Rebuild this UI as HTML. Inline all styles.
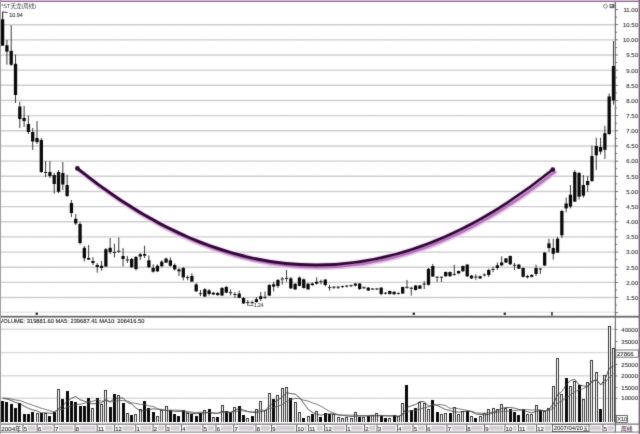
<!DOCTYPE html>
<html><head><meta charset="utf-8"><title>*ST天龙(周线)</title>
<style>
html,body{margin:0;padding:0;background:#fff;}
body{width:640px;height:434px;overflow:hidden;}
svg{display:block;}
text{font-family:"Liberation Sans","Noto Sans CJK SC",sans-serif;}
</style></head><body>
<svg width="640" height="434" viewBox="0 0 640 434">
<defs><filter id="soft" x="0" y="0" width="100%" height="100%" color-interpolation-filters="sRGB"><feConvolveMatrix order="3" kernelMatrix="0.0113 0.0838 0.0113 0.0838 0.6193 0.0838 0.0113 0.0838 0.0113" edgeMode="duplicate" preserveAlpha="true"/></filter></defs>
<g filter="url(#soft)">
<rect width="640" height="434" fill="#fff"/>
<line x1="1" y1="24.68" x2="615" y2="24.68" stroke="#d3d3d3" stroke-width="1.4" opacity="1.0"/>
<line x1="1" y1="24.68" x2="615" y2="24.68" stroke="#b0b0b0" stroke-width="1" stroke-dasharray="1 1.2" opacity="0.4"/>
<line x1="1" y1="39.84" x2="615" y2="39.84" stroke="#d3d3d3" stroke-width="1.4" opacity="1.0"/>
<line x1="1" y1="39.84" x2="615" y2="39.84" stroke="#b0b0b0" stroke-width="1" stroke-dasharray="1 1.2" opacity="0.4"/>
<line x1="1" y1="55" x2="615" y2="55" stroke="#d3d3d3" stroke-width="1.4" opacity="1.0"/>
<line x1="1" y1="55" x2="615" y2="55" stroke="#b0b0b0" stroke-width="1" stroke-dasharray="1 1.2" opacity="0.4"/>
<line x1="1" y1="70.16" x2="615" y2="70.16" stroke="#d3d3d3" stroke-width="1.4" opacity="1.0"/>
<line x1="1" y1="70.16" x2="615" y2="70.16" stroke="#b0b0b0" stroke-width="1" stroke-dasharray="1 1.2" opacity="0.4"/>
<line x1="1" y1="85.32" x2="615" y2="85.32" stroke="#d3d3d3" stroke-width="1.4" opacity="1.0"/>
<line x1="1" y1="85.32" x2="615" y2="85.32" stroke="#b0b0b0" stroke-width="1" stroke-dasharray="1 1.2" opacity="0.4"/>
<line x1="1" y1="100.48" x2="615" y2="100.48" stroke="#d3d3d3" stroke-width="1.4" opacity="1.0"/>
<line x1="1" y1="100.48" x2="615" y2="100.48" stroke="#b0b0b0" stroke-width="1" stroke-dasharray="1 1.2" opacity="0.4"/>
<line x1="1" y1="115.64" x2="615" y2="115.64" stroke="#d3d3d3" stroke-width="1.4" opacity="1.0"/>
<line x1="1" y1="115.64" x2="615" y2="115.64" stroke="#b0b0b0" stroke-width="1" stroke-dasharray="1 1.2" opacity="0.4"/>
<line x1="1" y1="130.8" x2="615" y2="130.8" stroke="#d3d3d3" stroke-width="1.4" opacity="1.0"/>
<line x1="1" y1="130.8" x2="615" y2="130.8" stroke="#b0b0b0" stroke-width="1" stroke-dasharray="1 1.2" opacity="0.4"/>
<line x1="1" y1="145.96" x2="615" y2="145.96" stroke="#d3d3d3" stroke-width="1.4" opacity="1.0"/>
<line x1="1" y1="145.96" x2="615" y2="145.96" stroke="#b0b0b0" stroke-width="1" stroke-dasharray="1 1.2" opacity="0.4"/>
<line x1="1" y1="161.12" x2="615" y2="161.12" stroke="#d3d3d3" stroke-width="1.4" opacity="1.0"/>
<line x1="1" y1="161.12" x2="615" y2="161.12" stroke="#b0b0b0" stroke-width="1" stroke-dasharray="1 1.2" opacity="0.4"/>
<line x1="1" y1="176.28" x2="615" y2="176.28" stroke="#d3d3d3" stroke-width="1.4" opacity="1.0"/>
<line x1="1" y1="176.28" x2="615" y2="176.28" stroke="#b0b0b0" stroke-width="1" stroke-dasharray="1 1.2" opacity="0.4"/>
<line x1="1" y1="191.44" x2="615" y2="191.44" stroke="#d3d3d3" stroke-width="1.4" opacity="1.0"/>
<line x1="1" y1="191.44" x2="615" y2="191.44" stroke="#b0b0b0" stroke-width="1" stroke-dasharray="1 1.2" opacity="0.4"/>
<line x1="1" y1="206.6" x2="615" y2="206.6" stroke="#d3d3d3" stroke-width="1.4" opacity="1.0"/>
<line x1="1" y1="206.6" x2="615" y2="206.6" stroke="#b0b0b0" stroke-width="1" stroke-dasharray="1 1.2" opacity="0.4"/>
<line x1="1" y1="221.76" x2="615" y2="221.76" stroke="#d3d3d3" stroke-width="1.4" opacity="1.0"/>
<line x1="1" y1="221.76" x2="615" y2="221.76" stroke="#b0b0b0" stroke-width="1" stroke-dasharray="1 1.2" opacity="0.4"/>
<line x1="1" y1="236.92" x2="615" y2="236.92" stroke="#d3d3d3" stroke-width="1.4" opacity="1.0"/>
<line x1="1" y1="236.92" x2="615" y2="236.92" stroke="#b0b0b0" stroke-width="1" stroke-dasharray="1 1.2" opacity="0.4"/>
<line x1="1" y1="252.08" x2="615" y2="252.08" stroke="#d3d3d3" stroke-width="1.4" opacity="1.0"/>
<line x1="1" y1="252.08" x2="615" y2="252.08" stroke="#b0b0b0" stroke-width="1" stroke-dasharray="1 1.2" opacity="0.4"/>
<line x1="1" y1="267.24" x2="615" y2="267.24" stroke="#d3d3d3" stroke-width="1.4" opacity="1.0"/>
<line x1="1" y1="267.24" x2="615" y2="267.24" stroke="#b0b0b0" stroke-width="1" stroke-dasharray="1 1.2" opacity="0.4"/>
<line x1="1" y1="282.4" x2="615" y2="282.4" stroke="#d3d3d3" stroke-width="1.4" opacity="1.0"/>
<line x1="1" y1="282.4" x2="615" y2="282.4" stroke="#b0b0b0" stroke-width="1" stroke-dasharray="1 1.2" opacity="0.4"/>
<line x1="1" y1="297.56" x2="615" y2="297.56" stroke="#d3d3d3" stroke-width="1.4" opacity="1.0"/>
<line x1="1" y1="297.56" x2="615" y2="297.56" stroke="#b0b0b0" stroke-width="1" stroke-dasharray="1 1.2" opacity="0.4"/>
<line x1="1" y1="312.2" x2="615" y2="312.2" stroke="#d8d8d8" stroke-width="1.4" opacity="0.5"/>
<line x1="1" y1="312.2" x2="615" y2="312.2" stroke="#b0b0b0" stroke-width="1" stroke-dasharray="1 1.2" opacity="0.2"/>
<line x1="1" y1="329.3" x2="615" y2="329.3" stroke="#dadada" stroke-width="1.4" opacity="0.85"/>
<line x1="1" y1="329.3" x2="615" y2="329.3" stroke="#b0b0b0" stroke-width="1" stroke-dasharray="1 1.2" opacity="0.34"/>
<line x1="1" y1="352.6" x2="615" y2="352.6" stroke="#dadada" stroke-width="1.4" opacity="0.85"/>
<line x1="1" y1="352.6" x2="615" y2="352.6" stroke="#b0b0b0" stroke-width="1" stroke-dasharray="1 1.2" opacity="0.34"/>
<line x1="1" y1="375.8" x2="615" y2="375.8" stroke="#dadada" stroke-width="1.4" opacity="0.85"/>
<line x1="1" y1="375.8" x2="615" y2="375.8" stroke="#b0b0b0" stroke-width="1" stroke-dasharray="1 1.2" opacity="0.34"/>
<line x1="1" y1="398.3" x2="615" y2="398.3" stroke="#dadada" stroke-width="1.4" opacity="0.85"/>
<line x1="1" y1="398.3" x2="615" y2="398.3" stroke="#b0b0b0" stroke-width="1" stroke-dasharray="1 1.2" opacity="0.34"/>
<line x1="2.6" y1="11.8" x2="2.6" y2="46" stroke="#3a3a3a" stroke-width="1"/>
<rect x="0.95" y="19.3" width="3.3" height="26.3" fill="#0a0a0a"/>
<line x1="6.9" y1="39.8" x2="6.9" y2="64.7" stroke="#3a3a3a" stroke-width="1"/>
<rect x="5.25" y="45.3" width="3.3" height="6.3" fill="#0a0a0a"/>
<line x1="11.2" y1="25.3" x2="11.2" y2="66" stroke="#3a3a3a" stroke-width="1"/>
<rect x="9.55" y="50.9" width="3.3" height="13.8" fill="#0a0a0a"/>
<line x1="15.51" y1="54.6" x2="15.51" y2="103" stroke="#3a3a3a" stroke-width="1"/>
<rect x="13.86" y="63.8" width="3.3" height="31.2" fill="#0a0a0a"/>
<line x1="19.81" y1="101.8" x2="19.81" y2="128" stroke="#3a3a3a" stroke-width="1"/>
<rect x="18.16" y="106.5" width="3.3" height="12.5" fill="#0a0a0a"/>
<line x1="24.11" y1="106" x2="24.11" y2="127" stroke="#3a3a3a" stroke-width="1"/>
<rect x="22.46" y="118" width="3.3" height="3" fill="#0a0a0a"/>
<line x1="28.41" y1="115.7" x2="28.41" y2="134" stroke="#3a3a3a" stroke-width="1"/>
<rect x="26.76" y="124" width="3.3" height="8" fill="#0a0a0a"/>
<line x1="32.71" y1="128" x2="32.71" y2="150" stroke="#3a3a3a" stroke-width="1"/>
<rect x="31.06" y="132" width="3.3" height="9.5" fill="#0a0a0a"/>
<line x1="37.02" y1="121" x2="37.02" y2="144" stroke="#3a3a3a" stroke-width="1"/>
<rect x="35.37" y="138" width="3.3" height="4" fill="#0a0a0a"/>
<line x1="41.32" y1="138" x2="41.32" y2="173" stroke="#3a3a3a" stroke-width="1"/>
<rect x="39.67" y="140" width="3.3" height="32" fill="#0a0a0a"/>
<line x1="45.62" y1="161" x2="45.62" y2="177" stroke="#3a3a3a" stroke-width="1"/>
<rect x="43.97" y="172" width="3.3" height="1" fill="#222"/>
<line x1="49.92" y1="161" x2="49.92" y2="178" stroke="#3a3a3a" stroke-width="1"/>
<rect x="48.27" y="172" width="3.3" height="4" fill="#0a0a0a"/>
<line x1="54.22" y1="173" x2="54.22" y2="193.7" stroke="#3a3a3a" stroke-width="1"/>
<rect x="52.57" y="175" width="3.3" height="9" fill="#0a0a0a"/>
<line x1="58.53" y1="170" x2="58.53" y2="193" stroke="#3a3a3a" stroke-width="1"/>
<rect x="56.88" y="172" width="3.3" height="19.8" fill="#0a0a0a"/>
<line x1="62.83" y1="162" x2="62.83" y2="190" stroke="#3a3a3a" stroke-width="1"/>
<rect x="61.18" y="173" width="3.3" height="11.5" fill="#0a0a0a"/>
<line x1="67.13" y1="174.6" x2="67.13" y2="197" stroke="#3a3a3a" stroke-width="1"/>
<rect x="65.48" y="185" width="3.3" height="11" fill="#0a0a0a"/>
<line x1="71.43" y1="200" x2="71.43" y2="217" stroke="#3a3a3a" stroke-width="1"/>
<rect x="69.78" y="203" width="3.3" height="10" fill="#0a0a0a"/>
<line x1="75.73" y1="214" x2="75.73" y2="225" stroke="#3a3a3a" stroke-width="1"/>
<rect x="74.08" y="218.8" width="3.3" height="4.6" fill="#0a0a0a"/>
<line x1="80.04" y1="222" x2="80.04" y2="244.6" stroke="#3a3a3a" stroke-width="1"/>
<rect x="78.39" y="224" width="3.3" height="19" fill="#0a0a0a"/>
<line x1="84.34" y1="246" x2="84.34" y2="261.6" stroke="#3a3a3a" stroke-width="1"/>
<rect x="82.69" y="247.8" width="3.3" height="10.4" fill="#0a0a0a"/>
<line x1="88.64" y1="245" x2="88.64" y2="260" stroke="#3a3a3a" stroke-width="1"/>
<rect x="86.99" y="258" width="3.3" height="1.6" fill="#0a0a0a"/>
<line x1="92.94" y1="257" x2="92.94" y2="265" stroke="#3a3a3a" stroke-width="1"/>
<rect x="91.29" y="261" width="3.3" height="2" fill="#0a0a0a"/>
<line x1="97.24" y1="263" x2="97.24" y2="272.7" stroke="#3a3a3a" stroke-width="1"/>
<rect x="95.59" y="265" width="3.3" height="2" fill="#0a0a0a"/>
<line x1="101.55" y1="261" x2="101.55" y2="270.6" stroke="#3a3a3a" stroke-width="1"/>
<rect x="99.9" y="265.8" width="3.3" height="2.2" fill="#0a0a0a"/>
<line x1="105.85" y1="248" x2="105.85" y2="267" stroke="#3a3a3a" stroke-width="1"/>
<rect x="104.2" y="249.2" width="3.3" height="17.3" fill="#0a0a0a"/>
<line x1="110.15" y1="238" x2="110.15" y2="254" stroke="#3a3a3a" stroke-width="1"/>
<rect x="108.5" y="247.8" width="3.3" height="4.2" fill="#0a0a0a"/>
<line x1="114.45" y1="243.7" x2="114.45" y2="257.5" stroke="#3a3a3a" stroke-width="1"/>
<rect x="112.8" y="251.9" width="3.3" height="1" fill="#222"/>
<line x1="118.75" y1="237.4" x2="118.75" y2="252.7" stroke="#3a3a3a" stroke-width="1"/>
<rect x="117.1" y="250.8" width="3.3" height="1" fill="#222"/>
<line x1="123.06" y1="248" x2="123.06" y2="266.5" stroke="#3a3a3a" stroke-width="1"/>
<rect x="121.41" y="256" width="3.3" height="3" fill="#0a0a0a"/>
<line x1="127.36" y1="256" x2="127.36" y2="263" stroke="#3a3a3a" stroke-width="1"/>
<rect x="125.71" y="259.5" width="3.3" height="1" fill="#222"/>
<line x1="131.66" y1="258" x2="131.66" y2="268" stroke="#3a3a3a" stroke-width="1"/>
<rect x="130.01" y="259" width="3.3" height="8.2" fill="#0a0a0a"/>
<line x1="135.96" y1="256" x2="135.96" y2="270.6" stroke="#3a3a3a" stroke-width="1"/>
<rect x="134.31" y="257" width="3.3" height="12" fill="#0a0a0a"/>
<line x1="140.26" y1="253" x2="140.26" y2="260" stroke="#3a3a3a" stroke-width="1"/>
<rect x="138.61" y="254.3" width="3.3" height="2.2" fill="#0a0a0a"/>
<line x1="144.57" y1="245.7" x2="144.57" y2="258" stroke="#3a3a3a" stroke-width="1"/>
<rect x="142.92" y="254" width="3.3" height="1.7" fill="#0a0a0a"/>
<line x1="148.87" y1="255.4" x2="148.87" y2="268" stroke="#3a3a3a" stroke-width="1"/>
<rect x="147.22" y="260.3" width="3.3" height="6.9" fill="#0a0a0a"/>
<line x1="153.17" y1="264.4" x2="153.17" y2="272.7" stroke="#3a3a3a" stroke-width="1"/>
<rect x="151.52" y="267.9" width="3.3" height="3.8" fill="#0a0a0a"/>
<line x1="157.47" y1="264.4" x2="157.47" y2="272" stroke="#3a3a3a" stroke-width="1"/>
<rect x="155.82" y="265.8" width="3.3" height="5.5" fill="#0a0a0a"/>
<line x1="161.77" y1="260.3" x2="161.77" y2="267.2" stroke="#3a3a3a" stroke-width="1"/>
<rect x="160.12" y="261.7" width="3.3" height="4.5" fill="#0a0a0a"/>
<line x1="166.08" y1="257.5" x2="166.08" y2="263" stroke="#3a3a3a" stroke-width="1"/>
<rect x="164.43" y="258.6" width="3.3" height="4" fill="#0a0a0a"/>
<line x1="170.38" y1="257.5" x2="170.38" y2="266.5" stroke="#3a3a3a" stroke-width="1"/>
<rect x="168.73" y="260.3" width="3.3" height="5.5" fill="#0a0a0a"/>
<line x1="174.68" y1="263.4" x2="174.68" y2="270.6" stroke="#3a3a3a" stroke-width="1"/>
<rect x="173.03" y="265" width="3.3" height="4.3" fill="#0a0a0a"/>
<line x1="178.98" y1="268" x2="178.98" y2="276" stroke="#3a3a3a" stroke-width="1"/>
<rect x="177.33" y="269.5" width="3.3" height="1.8" fill="#0a0a0a"/>
<line x1="183.28" y1="267" x2="183.28" y2="280.3" stroke="#3a3a3a" stroke-width="1"/>
<rect x="181.63" y="268" width="3.3" height="9.3" fill="#0a0a0a"/>
<line x1="187.59" y1="275.5" x2="187.59" y2="280.3" stroke="#3a3a3a" stroke-width="1"/>
<rect x="185.94" y="277" width="3.3" height="1" fill="#222"/>
<line x1="191.89" y1="273.4" x2="191.89" y2="282" stroke="#3a3a3a" stroke-width="1"/>
<rect x="190.24" y="276" width="3.3" height="5.6" fill="#0a0a0a"/>
<line x1="196.19" y1="283" x2="196.19" y2="292" stroke="#3a3a3a" stroke-width="1"/>
<rect x="194.54" y="284.4" width="3.3" height="6.9" fill="#0a0a0a"/>
<line x1="200.49" y1="290" x2="200.49" y2="296" stroke="#3a3a3a" stroke-width="1"/>
<rect x="198.84" y="293.2" width="3.3" height="1" fill="#222"/>
<line x1="204.79" y1="288" x2="204.79" y2="297" stroke="#3a3a3a" stroke-width="1"/>
<rect x="203.14" y="289.3" width="3.3" height="7.2" fill="#0a0a0a"/>
<line x1="209.1" y1="289" x2="209.1" y2="295.5" stroke="#3a3a3a" stroke-width="1"/>
<rect x="207.45" y="290.4" width="3.3" height="3.6" fill="#0a0a0a"/>
<line x1="213.4" y1="292" x2="213.4" y2="295" stroke="#3a3a3a" stroke-width="1"/>
<rect x="211.75" y="292.7" width="3.3" height="1.7" fill="#0a0a0a"/>
<line x1="217.7" y1="292" x2="217.7" y2="296" stroke="#3a3a3a" stroke-width="1"/>
<rect x="216.05" y="293" width="3.3" height="2" fill="#0a0a0a"/>
<line x1="222" y1="287" x2="222" y2="296" stroke="#3a3a3a" stroke-width="1"/>
<rect x="220.35" y="288" width="3.3" height="7.5" fill="#0a0a0a"/>
<line x1="226.3" y1="285.8" x2="226.3" y2="293" stroke="#3a3a3a" stroke-width="1"/>
<rect x="224.65" y="287" width="3.3" height="5.7" fill="#0a0a0a"/>
<line x1="230.61" y1="289.3" x2="230.61" y2="295.5" stroke="#3a3a3a" stroke-width="1"/>
<rect x="228.96" y="292.2" width="3.3" height="1" fill="#222"/>
<line x1="234.91" y1="292" x2="234.91" y2="298" stroke="#3a3a3a" stroke-width="1"/>
<rect x="233.26" y="294" width="3.3" height="1" fill="#222"/>
<line x1="239.21" y1="290.6" x2="239.21" y2="298.2" stroke="#3a3a3a" stroke-width="1"/>
<rect x="237.56" y="293.6" width="3.3" height="4.3" fill="#0a0a0a"/>
<line x1="243.51" y1="297" x2="243.51" y2="304" stroke="#3a3a3a" stroke-width="1"/>
<rect x="241.86" y="298" width="3.3" height="5.4" fill="#0a0a0a"/>
<line x1="247.81" y1="299.8" x2="247.81" y2="305.8" stroke="#3a3a3a" stroke-width="1"/>
<rect x="246.16" y="302.1" width="3.3" height="1" fill="#222"/>
<line x1="252.12" y1="300.5" x2="252.12" y2="304.6" stroke="#3a3a3a" stroke-width="1"/>
<rect x="250.47" y="302.1" width="3.3" height="1" fill="#222"/>
<line x1="256.42" y1="297" x2="256.42" y2="302.5" stroke="#3a3a3a" stroke-width="1"/>
<rect x="254.77" y="299.2" width="3.3" height="2.9" fill="#0a0a0a"/>
<line x1="260.72" y1="292" x2="260.72" y2="301" stroke="#3a3a3a" stroke-width="1"/>
<rect x="259.07" y="296.3" width="3.3" height="2.7" fill="#0a0a0a"/>
<line x1="265.02" y1="291.5" x2="265.02" y2="299" stroke="#3a3a3a" stroke-width="1"/>
<rect x="263.37" y="296.8" width="3.3" height="1" fill="#222"/>
<line x1="269.32" y1="284" x2="269.32" y2="296" stroke="#3a3a3a" stroke-width="1"/>
<rect x="267.67" y="285" width="3.3" height="10.6" fill="#0a0a0a"/>
<line x1="273.63" y1="281.8" x2="273.63" y2="291.5" stroke="#3a3a3a" stroke-width="1"/>
<rect x="271.98" y="284.3" width="3.3" height="2.3" fill="#0a0a0a"/>
<line x1="277.93" y1="279" x2="277.93" y2="288" stroke="#3a3a3a" stroke-width="1"/>
<rect x="276.28" y="280" width="3.3" height="6" fill="#0a0a0a"/>
<line x1="282.23" y1="277" x2="282.23" y2="284.6" stroke="#3a3a3a" stroke-width="1"/>
<rect x="280.58" y="278.5" width="3.3" height="1" fill="#222"/>
<line x1="286.53" y1="270" x2="286.53" y2="281.8" stroke="#3a3a3a" stroke-width="1"/>
<rect x="284.88" y="277.9" width="3.3" height="1" fill="#222"/>
<line x1="290.83" y1="277" x2="290.83" y2="289" stroke="#3a3a3a" stroke-width="1"/>
<rect x="289.18" y="278.4" width="3.3" height="10" fill="#0a0a0a"/>
<line x1="295.14" y1="283" x2="295.14" y2="290" stroke="#3a3a3a" stroke-width="1"/>
<rect x="293.49" y="283.9" width="3.3" height="5.5" fill="#0a0a0a"/>
<line x1="299.44" y1="276.5" x2="299.44" y2="286.5" stroke="#3a3a3a" stroke-width="1"/>
<rect x="297.79" y="277.6" width="3.3" height="8.2" fill="#0a0a0a"/>
<line x1="303.74" y1="278.5" x2="303.74" y2="288.5" stroke="#3a3a3a" stroke-width="1"/>
<rect x="302.09" y="279.3" width="3.3" height="8.7" fill="#0a0a0a"/>
<line x1="308.04" y1="283" x2="308.04" y2="290" stroke="#3a3a3a" stroke-width="1"/>
<rect x="306.39" y="283.7" width="3.3" height="5.6" fill="#0a0a0a"/>
<line x1="312.34" y1="282.5" x2="312.34" y2="286" stroke="#3a3a3a" stroke-width="1"/>
<rect x="310.69" y="283.5" width="3.3" height="1.5" fill="#0a0a0a"/>
<line x1="316.65" y1="277.5" x2="316.65" y2="284.5" stroke="#3a3a3a" stroke-width="1"/>
<rect x="315" y="281.7" width="3.3" height="2" fill="#0a0a0a"/>
<line x1="320.95" y1="279.6" x2="320.95" y2="284.4" stroke="#3a3a3a" stroke-width="1"/>
<rect x="319.3" y="281.2" width="3.3" height="1" fill="#222"/>
<line x1="325.25" y1="279" x2="325.25" y2="286.5" stroke="#3a3a3a" stroke-width="1"/>
<rect x="323.6" y="279.6" width="3.3" height="5.4" fill="#0a0a0a"/>
<line x1="329.55" y1="285" x2="329.55" y2="290.6" stroke="#3a3a3a" stroke-width="1"/>
<rect x="327.9" y="287.1" width="3.3" height="1" fill="#222"/>
<line x1="333.85" y1="286" x2="333.85" y2="289" stroke="#3a3a3a" stroke-width="1"/>
<rect x="332.2" y="286.7" width="3.3" height="1" fill="#222"/>
<line x1="338.16" y1="286" x2="338.16" y2="289" stroke="#3a3a3a" stroke-width="1"/>
<rect x="336.51" y="286.7" width="3.3" height="1" fill="#222"/>
<line x1="342.46" y1="285.5" x2="342.46" y2="288" stroke="#3a3a3a" stroke-width="1"/>
<rect x="340.81" y="286" width="3.3" height="1" fill="#222"/>
<line x1="346.76" y1="285" x2="346.76" y2="287.5" stroke="#3a3a3a" stroke-width="1"/>
<rect x="345.11" y="285.5" width="3.3" height="1" fill="#222"/>
<line x1="351.06" y1="284.5" x2="351.06" y2="287" stroke="#3a3a3a" stroke-width="1"/>
<rect x="349.41" y="285.3" width="3.3" height="1" fill="#222"/>
<line x1="355.36" y1="283" x2="355.36" y2="286.5" stroke="#3a3a3a" stroke-width="1"/>
<rect x="353.71" y="283.6" width="3.3" height="2" fill="#0a0a0a"/>
<line x1="359.67" y1="283" x2="359.67" y2="290" stroke="#3a3a3a" stroke-width="1"/>
<rect x="358.02" y="283.6" width="3.3" height="5.4" fill="#0a0a0a"/>
<line x1="363.97" y1="286.5" x2="363.97" y2="289" stroke="#3a3a3a" stroke-width="1"/>
<rect x="362.32" y="287.2" width="3.3" height="1" fill="#222"/>
<line x1="368.27" y1="287" x2="368.27" y2="291" stroke="#3a3a3a" stroke-width="1"/>
<rect x="366.62" y="287.7" width="3.3" height="2.8" fill="#0a0a0a"/>
<line x1="372.57" y1="288" x2="372.57" y2="290" stroke="#3a3a3a" stroke-width="1"/>
<rect x="370.92" y="288.5" width="3.3" height="1" fill="#222"/>
<line x1="376.87" y1="288" x2="376.87" y2="290" stroke="#3a3a3a" stroke-width="1"/>
<rect x="375.22" y="288.5" width="3.3" height="1" fill="#222"/>
<line x1="381.18" y1="287" x2="381.18" y2="295.3" stroke="#3a3a3a" stroke-width="1"/>
<rect x="379.53" y="287.7" width="3.3" height="6.3" fill="#0a0a0a"/>
<line x1="385.48" y1="292" x2="385.48" y2="294.5" stroke="#3a3a3a" stroke-width="1"/>
<rect x="383.83" y="292.8" width="3.3" height="1" fill="#222"/>
<line x1="389.78" y1="290.5" x2="389.78" y2="294.5" stroke="#3a3a3a" stroke-width="1"/>
<rect x="388.13" y="291" width="3.3" height="3" fill="#0a0a0a"/>
<line x1="394.08" y1="291" x2="394.08" y2="295" stroke="#3a3a3a" stroke-width="1"/>
<rect x="392.43" y="291.9" width="3.3" height="2.3" fill="#0a0a0a"/>
<line x1="398.38" y1="292.5" x2="398.38" y2="294.5" stroke="#3a3a3a" stroke-width="1"/>
<rect x="396.73" y="292.9" width="3.3" height="1" fill="#222"/>
<line x1="402.69" y1="286.5" x2="402.69" y2="294" stroke="#3a3a3a" stroke-width="1"/>
<rect x="401.04" y="287" width="3.3" height="6.5" fill="#0a0a0a"/>
<line x1="406.99" y1="280" x2="406.99" y2="288.7" stroke="#3a3a3a" stroke-width="1"/>
<rect x="405.34" y="286.9" width="3.3" height="1" fill="#222"/>
<line x1="411.29" y1="286.6" x2="411.29" y2="295.6" stroke="#3a3a3a" stroke-width="1"/>
<rect x="409.64" y="287.8" width="3.3" height="1" fill="#222"/>
<line x1="415.59" y1="285" x2="415.59" y2="290.5" stroke="#3a3a3a" stroke-width="1"/>
<rect x="413.94" y="285.5" width="3.3" height="4.5" fill="#0a0a0a"/>
<line x1="419.89" y1="285" x2="419.89" y2="289" stroke="#3a3a3a" stroke-width="1"/>
<rect x="418.24" y="285.5" width="3.3" height="3.2" fill="#0a0a0a"/>
<line x1="424.2" y1="281.3" x2="424.2" y2="289" stroke="#3a3a3a" stroke-width="1"/>
<rect x="422.55" y="283.6" width="3.3" height="1" fill="#222"/>
<line x1="428.5" y1="268" x2="428.5" y2="285.5" stroke="#3a3a3a" stroke-width="1"/>
<rect x="426.85" y="268.9" width="3.3" height="15.9" fill="#0a0a0a"/>
<line x1="432.8" y1="264" x2="432.8" y2="277" stroke="#3a3a3a" stroke-width="1"/>
<rect x="431.15" y="266" width="3.3" height="10.5" fill="#0a0a0a"/>
<line x1="437.1" y1="276.5" x2="437.1" y2="282" stroke="#3a3a3a" stroke-width="1"/>
<rect x="435.45" y="276.7" width="3.3" height="1" fill="#222"/>
<line x1="441.4" y1="276.5" x2="441.4" y2="282" stroke="#3a3a3a" stroke-width="1"/>
<rect x="439.75" y="276.7" width="3.3" height="1" fill="#222"/>
<line x1="445.71" y1="271.5" x2="445.71" y2="276.8" stroke="#3a3a3a" stroke-width="1"/>
<rect x="444.06" y="272" width="3.3" height="4.2" fill="#0a0a0a"/>
<line x1="450.01" y1="271.5" x2="450.01" y2="276.8" stroke="#3a3a3a" stroke-width="1"/>
<rect x="448.36" y="272" width="3.3" height="4.2" fill="#0a0a0a"/>
<line x1="454.31" y1="264.7" x2="454.31" y2="275.8" stroke="#3a3a3a" stroke-width="1"/>
<rect x="452.66" y="273.9" width="3.3" height="1" fill="#222"/>
<line x1="458.61" y1="270.5" x2="458.61" y2="274" stroke="#3a3a3a" stroke-width="1"/>
<rect x="456.96" y="271" width="3.3" height="2.4" fill="#0a0a0a"/>
<line x1="462.91" y1="265.5" x2="462.91" y2="272" stroke="#3a3a3a" stroke-width="1"/>
<rect x="461.26" y="266" width="3.3" height="5.2" fill="#0a0a0a"/>
<line x1="467.22" y1="264" x2="467.22" y2="277" stroke="#3a3a3a" stroke-width="1"/>
<rect x="465.57" y="264.6" width="3.3" height="11.7" fill="#0a0a0a"/>
<line x1="471.52" y1="275" x2="471.52" y2="279" stroke="#3a3a3a" stroke-width="1"/>
<rect x="469.87" y="275.6" width="3.3" height="2.8" fill="#0a0a0a"/>
<line x1="475.82" y1="274.3" x2="475.82" y2="279.8" stroke="#3a3a3a" stroke-width="1"/>
<rect x="474.17" y="276.5" width="3.3" height="1" fill="#222"/>
<line x1="480.12" y1="275.5" x2="480.12" y2="279" stroke="#3a3a3a" stroke-width="1"/>
<rect x="478.47" y="276.3" width="3.3" height="2.1" fill="#0a0a0a"/>
<line x1="484.42" y1="273.5" x2="484.42" y2="276.5" stroke="#3a3a3a" stroke-width="1"/>
<rect x="482.77" y="274.5" width="3.3" height="1" fill="#222"/>
<line x1="488.73" y1="268.7" x2="488.73" y2="277" stroke="#3a3a3a" stroke-width="1"/>
<rect x="487.08" y="270" width="3.3" height="5" fill="#0a0a0a"/>
<line x1="493.03" y1="266.7" x2="493.03" y2="272.2" stroke="#3a3a3a" stroke-width="1"/>
<rect x="491.38" y="268.9" width="3.3" height="1" fill="#222"/>
<line x1="497.33" y1="262.5" x2="497.33" y2="270" stroke="#3a3a3a" stroke-width="1"/>
<rect x="495.68" y="265.3" width="3.3" height="2.7" fill="#0a0a0a"/>
<line x1="501.63" y1="256.3" x2="501.63" y2="266" stroke="#3a3a3a" stroke-width="1"/>
<rect x="499.98" y="262.5" width="3.3" height="2.8" fill="#0a0a0a"/>
<line x1="505.93" y1="258" x2="505.93" y2="263" stroke="#3a3a3a" stroke-width="1"/>
<rect x="504.28" y="258.4" width="3.3" height="4.1" fill="#0a0a0a"/>
<line x1="510.24" y1="255.5" x2="510.24" y2="265" stroke="#3a3a3a" stroke-width="1"/>
<rect x="508.59" y="256" width="3.3" height="8.3" fill="#0a0a0a"/>
<line x1="514.54" y1="263" x2="514.54" y2="270" stroke="#3a3a3a" stroke-width="1"/>
<rect x="512.89" y="264.8" width="3.3" height="1" fill="#222"/>
<line x1="518.84" y1="264" x2="518.84" y2="269" stroke="#3a3a3a" stroke-width="1"/>
<rect x="517.19" y="264.6" width="3.3" height="4.1" fill="#0a0a0a"/>
<line x1="523.14" y1="267.5" x2="523.14" y2="277.5" stroke="#3a3a3a" stroke-width="1"/>
<rect x="521.49" y="268" width="3.3" height="8.8" fill="#0a0a0a"/>
<line x1="527.44" y1="275" x2="527.44" y2="278.5" stroke="#3a3a3a" stroke-width="1"/>
<rect x="525.79" y="276" width="3.3" height="1.3" fill="#0a0a0a"/>
<line x1="531.75" y1="274" x2="531.75" y2="277.5" stroke="#3a3a3a" stroke-width="1"/>
<rect x="530.1" y="275" width="3.3" height="1.8" fill="#0a0a0a"/>
<line x1="536.05" y1="264.7" x2="536.05" y2="276" stroke="#3a3a3a" stroke-width="1"/>
<rect x="534.4" y="268" width="3.3" height="6" fill="#0a0a0a"/>
<line x1="540.35" y1="268" x2="540.35" y2="274" stroke="#3a3a3a" stroke-width="1"/>
<rect x="538.7" y="268.5" width="3.3" height="1" fill="#222"/>
<line x1="544.65" y1="252" x2="544.65" y2="266" stroke="#3a3a3a" stroke-width="1"/>
<rect x="543" y="252.6" width="3.3" height="12.9" fill="#0a0a0a"/>
<line x1="548.95" y1="238.7" x2="548.95" y2="251.7" stroke="#3a3a3a" stroke-width="1"/>
<rect x="547.3" y="243.4" width="3.3" height="4.6" fill="#0a0a0a"/>
<line x1="553.26" y1="238.7" x2="553.26" y2="259.5" stroke="#3a3a3a" stroke-width="1"/>
<rect x="551.61" y="248" width="3.3" height="5.8" fill="#0a0a0a"/>
<line x1="557.56" y1="237" x2="557.56" y2="253" stroke="#3a3a3a" stroke-width="1"/>
<rect x="555.91" y="238.7" width="3.3" height="13.9" fill="#0a0a0a"/>
<line x1="561.86" y1="210" x2="561.86" y2="238" stroke="#3a3a3a" stroke-width="1"/>
<rect x="560.21" y="211" width="3.3" height="24.3" fill="#0a0a0a"/>
<line x1="566.16" y1="197.6" x2="566.16" y2="212.4" stroke="#3a3a3a" stroke-width="1"/>
<rect x="564.51" y="203.5" width="3.3" height="4.9" fill="#0a0a0a"/>
<line x1="570.46" y1="185" x2="570.46" y2="208.4" stroke="#3a3a3a" stroke-width="1"/>
<rect x="568.81" y="194.7" width="3.3" height="11.8" fill="#0a0a0a"/>
<line x1="574.77" y1="170" x2="574.77" y2="202" stroke="#3a3a3a" stroke-width="1"/>
<rect x="573.12" y="172" width="3.3" height="29.6" fill="#0a0a0a"/>
<line x1="579.07" y1="172" x2="579.07" y2="199.6" stroke="#3a3a3a" stroke-width="1"/>
<rect x="577.42" y="173" width="3.3" height="23.7" fill="#0a0a0a"/>
<line x1="583.37" y1="175" x2="583.37" y2="197.6" stroke="#3a3a3a" stroke-width="1"/>
<rect x="581.72" y="185" width="3.3" height="10.7" fill="#0a0a0a"/>
<line x1="587.67" y1="176" x2="587.67" y2="191.8" stroke="#3a3a3a" stroke-width="1"/>
<rect x="586.02" y="181" width="3.3" height="4" fill="#0a0a0a"/>
<line x1="591.97" y1="145.7" x2="591.97" y2="182" stroke="#3a3a3a" stroke-width="1"/>
<rect x="590.32" y="156" width="3.3" height="25" fill="#0a0a0a"/>
<line x1="596.28" y1="137.8" x2="596.28" y2="170" stroke="#3a3a3a" stroke-width="1"/>
<rect x="594.63" y="146" width="3.3" height="9.3" fill="#0a0a0a"/>
<line x1="600.58" y1="137.8" x2="600.58" y2="154.5" stroke="#3a3a3a" stroke-width="1"/>
<rect x="598.93" y="147" width="3.3" height="4.6" fill="#0a0a0a"/>
<line x1="604.88" y1="125.8" x2="604.88" y2="159" stroke="#3a3a3a" stroke-width="1"/>
<rect x="603.23" y="133.2" width="3.3" height="16.6" fill="#0a0a0a"/>
<line x1="609.18" y1="93.5" x2="609.18" y2="135" stroke="#3a3a3a" stroke-width="1"/>
<rect x="607.53" y="96.4" width="3.3" height="37.6" fill="#0a0a0a"/>
<line x1="613.48" y1="41" x2="613.48" y2="104.6" stroke="#3a3a3a" stroke-width="1"/>
<rect x="611.83" y="66" width="3.3" height="34.4" fill="#0a0a0a"/>
<path d="M77.4,168.4 C235.9,296.5 394.3,297.6 552.8,169.5" fill="none" stroke="#f8e2f8" stroke-width="5" stroke-linecap="round"/>
<path d="M79.7,171.3 C238.2,299.4 396.6,300.5 555.1,172.4" fill="none" stroke="#ecc4ee" stroke-width="4.2" stroke-linecap="round"/>
<path d="M79.4,170.6 C237.9,298.7 396.3,299.8 554.8,171.7" fill="none" stroke="#b474ba" stroke-width="2.5" stroke-linecap="round"/>
<path d="M77.4,168.4 C235.9,296.5 394.3,297.6 552.8,169.5" fill="none" stroke="#2e0a36" stroke-width="2.7" stroke-linecap="round"/>
<circle cx="77.4" cy="168.4" r="2.3" fill="#2e0a36"/>
<circle cx="552.8" cy="169.5" r="2.3" fill="#2e0a36"/>
<rect x="1" y="401" width="3" height="21" fill="#0a0a0a"/>
<rect x="5" y="402" width="3" height="20" fill="#0a0a0a"/>
<rect x="10" y="404" width="3" height="18" fill="#0a0a0a"/>
<rect x="14" y="408" width="3" height="14" fill="#0a0a0a"/>
<rect x="18" y="403" width="3" height="19" fill="#0a0a0a"/>
<rect x="23" y="414" width="3" height="8" fill="#0a0a0a"/>
<rect x="27" y="414" width="3" height="8" fill="#0a0a0a"/>
<rect x="31" y="412" width="3" height="10" fill="#0a0a0a"/>
<rect x="36" y="413" width="3" height="9" fill="#3a3a3a"/>
<rect x="37" y="414" width="1" height="8" fill="#fff"/>
<rect x="40" y="413" width="3" height="9" fill="#0a0a0a"/>
<rect x="44" y="413" width="3" height="9" fill="#3a3a3a"/>
<rect x="45" y="414" width="1" height="8" fill="#fff"/>
<rect x="48" y="416" width="3" height="6" fill="#0a0a0a"/>
<rect x="53" y="412" width="3" height="10" fill="#0a0a0a"/>
<rect x="57" y="389" width="3" height="33" fill="#3a3a3a"/>
<rect x="58" y="390" width="1" height="32" fill="#fff"/>
<rect x="61" y="399" width="3" height="23" fill="#0a0a0a"/>
<rect x="66" y="391" width="3" height="31" fill="#0a0a0a"/>
<rect x="70" y="401" width="3" height="21" fill="#0a0a0a"/>
<rect x="74" y="402" width="3" height="20" fill="#0a0a0a"/>
<rect x="79" y="406" width="3" height="16" fill="#0a0a0a"/>
<rect x="83" y="406" width="3" height="16" fill="#0a0a0a"/>
<rect x="87" y="398" width="3" height="24" fill="#0a0a0a"/>
<rect x="91" y="408" width="3" height="14" fill="#3a3a3a"/>
<rect x="92" y="409" width="1" height="13" fill="#fff"/>
<rect x="96" y="398" width="3" height="24" fill="#0a0a0a"/>
<rect x="100" y="404" width="3" height="18" fill="#3a3a3a"/>
<rect x="101" y="405" width="1" height="17" fill="#fff"/>
<rect x="104" y="390" width="3" height="32" fill="#3a3a3a"/>
<rect x="105" y="391" width="1" height="31" fill="#fff"/>
<rect x="109" y="407" width="3" height="15" fill="#0a0a0a"/>
<rect x="113" y="394" width="3" height="28" fill="#0a0a0a"/>
<rect x="117" y="395" width="3" height="27" fill="#3a3a3a"/>
<rect x="118" y="396" width="1" height="26" fill="#fff"/>
<rect x="122" y="403" width="3" height="19" fill="#0a0a0a"/>
<rect x="126" y="413" width="3" height="9" fill="#3a3a3a"/>
<rect x="127" y="414" width="1" height="8" fill="#fff"/>
<rect x="130" y="415" width="3" height="7" fill="#0a0a0a"/>
<rect x="134" y="414" width="3" height="8" fill="#3a3a3a"/>
<rect x="135" y="415" width="1" height="7" fill="#fff"/>
<rect x="139" y="409" width="3" height="13" fill="#3a3a3a"/>
<rect x="140" y="410" width="1" height="12" fill="#fff"/>
<rect x="143" y="401" width="3" height="21" fill="#0a0a0a"/>
<rect x="147" y="408" width="3" height="14" fill="#0a0a0a"/>
<rect x="152" y="412" width="3" height="10" fill="#0a0a0a"/>
<rect x="156" y="416" width="3" height="6" fill="#3a3a3a"/>
<rect x="157" y="417" width="1" height="5" fill="#fff"/>
<rect x="160" y="410" width="3" height="12" fill="#3a3a3a"/>
<rect x="161" y="411" width="1" height="11" fill="#fff"/>
<rect x="165" y="406" width="3" height="16" fill="#3a3a3a"/>
<rect x="166" y="407" width="1" height="15" fill="#fff"/>
<rect x="169" y="410" width="3" height="12" fill="#0a0a0a"/>
<rect x="173" y="414" width="3" height="8" fill="#0a0a0a"/>
<rect x="177" y="416" width="3" height="6" fill="#0a0a0a"/>
<rect x="182" y="410" width="3" height="12" fill="#0a0a0a"/>
<rect x="186" y="413" width="3" height="9" fill="#3a3a3a"/>
<rect x="187" y="414" width="1" height="8" fill="#fff"/>
<rect x="190" y="414" width="3" height="8" fill="#0a0a0a"/>
<rect x="195" y="416" width="3" height="6" fill="#0a0a0a"/>
<rect x="199" y="413" width="3" height="9" fill="#0a0a0a"/>
<rect x="203" y="410" width="3" height="12" fill="#3a3a3a"/>
<rect x="204" y="411" width="1" height="11" fill="#fff"/>
<rect x="208" y="409" width="3" height="13" fill="#0a0a0a"/>
<rect x="212" y="417" width="3" height="5" fill="#3a3a3a"/>
<rect x="213" y="418" width="1" height="4" fill="#fff"/>
<rect x="216" y="417" width="3" height="5" fill="#0a0a0a"/>
<rect x="221" y="405" width="3" height="17" fill="#3a3a3a"/>
<rect x="222" y="406" width="1" height="16" fill="#fff"/>
<rect x="225" y="411" width="3" height="11" fill="#0a0a0a"/>
<rect x="229" y="412" width="3" height="10" fill="#0a0a0a"/>
<rect x="233" y="407" width="3" height="15" fill="#3a3a3a"/>
<rect x="234" y="408" width="1" height="14" fill="#fff"/>
<rect x="238" y="406" width="3" height="16" fill="#0a0a0a"/>
<rect x="242" y="415" width="3" height="7" fill="#0a0a0a"/>
<rect x="246" y="418" width="3" height="4" fill="#3a3a3a"/>
<rect x="247" y="419" width="1" height="3" fill="#fff"/>
<rect x="251" y="416" width="3" height="6" fill="#0a0a0a"/>
<rect x="255" y="409" width="3" height="13" fill="#3a3a3a"/>
<rect x="256" y="410" width="1" height="12" fill="#fff"/>
<rect x="259" y="401" width="3" height="21" fill="#3a3a3a"/>
<rect x="260" y="402" width="1" height="20" fill="#fff"/>
<rect x="264" y="410" width="3" height="12" fill="#3a3a3a"/>
<rect x="265" y="411" width="1" height="11" fill="#fff"/>
<rect x="268" y="393" width="3" height="29" fill="#3a3a3a"/>
<rect x="269" y="394" width="1" height="28" fill="#fff"/>
<rect x="272" y="399" width="3" height="23" fill="#0a0a0a"/>
<rect x="276" y="395" width="3" height="27" fill="#3a3a3a"/>
<rect x="277" y="396" width="1" height="26" fill="#fff"/>
<rect x="281" y="388" width="3" height="34" fill="#3a3a3a"/>
<rect x="282" y="389" width="1" height="33" fill="#fff"/>
<rect x="285" y="387" width="3" height="35" fill="#3a3a3a"/>
<rect x="286" y="388" width="1" height="34" fill="#fff"/>
<rect x="289" y="398" width="3" height="24" fill="#0a0a0a"/>
<rect x="294" y="402" width="3" height="20" fill="#3a3a3a"/>
<rect x="295" y="403" width="1" height="19" fill="#fff"/>
<rect x="298" y="412" width="3" height="10" fill="#3a3a3a"/>
<rect x="299" y="413" width="1" height="9" fill="#fff"/>
<rect x="302" y="418" width="3" height="4" fill="#0a0a0a"/>
<rect x="307" y="416" width="3" height="6" fill="#3a3a3a"/>
<rect x="308" y="417" width="1" height="5" fill="#fff"/>
<rect x="311" y="414" width="3" height="8" fill="#0a0a0a"/>
<rect x="315" y="411" width="3" height="11" fill="#3a3a3a"/>
<rect x="316" y="412" width="1" height="10" fill="#fff"/>
<rect x="319" y="417" width="3" height="5" fill="#0a0a0a"/>
<rect x="324" y="413" width="3" height="9" fill="#0a0a0a"/>
<rect x="328" y="414" width="3" height="8" fill="#0a0a0a"/>
<rect x="332" y="414" width="3" height="8" fill="#3a3a3a"/>
<rect x="333" y="415" width="1" height="7" fill="#fff"/>
<rect x="337" y="417" width="3" height="5" fill="#3a3a3a"/>
<rect x="338" y="418" width="1" height="4" fill="#fff"/>
<rect x="341" y="418" width="3" height="4" fill="#3a3a3a"/>
<rect x="342" y="419" width="1" height="3" fill="#fff"/>
<rect x="345" y="417" width="3" height="5" fill="#3a3a3a"/>
<rect x="346" y="418" width="1" height="4" fill="#fff"/>
<rect x="350" y="418" width="3" height="4" fill="#3a3a3a"/>
<rect x="351" y="419" width="1" height="3" fill="#fff"/>
<rect x="354" y="412" width="3" height="10" fill="#3a3a3a"/>
<rect x="355" y="413" width="1" height="9" fill="#fff"/>
<rect x="358" y="417" width="3" height="5" fill="#0a0a0a"/>
<rect x="362" y="417" width="3" height="5" fill="#3a3a3a"/>
<rect x="363" y="418" width="1" height="4" fill="#fff"/>
<rect x="367" y="416" width="3" height="6" fill="#0a0a0a"/>
<rect x="371" y="415" width="3" height="7" fill="#3a3a3a"/>
<rect x="372" y="416" width="1" height="6" fill="#fff"/>
<rect x="375" y="413" width="3" height="9" fill="#3a3a3a"/>
<rect x="376" y="414" width="1" height="8" fill="#fff"/>
<rect x="380" y="416" width="3" height="6" fill="#0a0a0a"/>
<rect x="384" y="418" width="3" height="4" fill="#0a0a0a"/>
<rect x="388" y="418" width="3" height="4" fill="#3a3a3a"/>
<rect x="389" y="419" width="1" height="3" fill="#fff"/>
<rect x="393" y="415" width="3" height="7" fill="#0a0a0a"/>
<rect x="397" y="416" width="3" height="6" fill="#3a3a3a"/>
<rect x="398" y="417" width="1" height="5" fill="#fff"/>
<rect x="401" y="403" width="3" height="19" fill="#3a3a3a"/>
<rect x="402" y="404" width="1" height="18" fill="#fff"/>
<rect x="405" y="385" width="3" height="37" fill="#0a0a0a"/>
<rect x="410" y="410" width="3" height="12" fill="#0a0a0a"/>
<rect x="414" y="408" width="3" height="14" fill="#0a0a0a"/>
<rect x="418" y="402" width="3" height="20" fill="#3a3a3a"/>
<rect x="419" y="403" width="1" height="19" fill="#fff"/>
<rect x="423" y="403" width="3" height="19" fill="#3a3a3a"/>
<rect x="424" y="404" width="1" height="18" fill="#fff"/>
<rect x="427" y="409" width="3" height="13" fill="#3a3a3a"/>
<rect x="428" y="410" width="1" height="12" fill="#fff"/>
<rect x="431" y="400" width="3" height="22" fill="#0a0a0a"/>
<rect x="436" y="412" width="3" height="10" fill="#0a0a0a"/>
<rect x="440" y="414" width="3" height="8" fill="#3a3a3a"/>
<rect x="441" y="415" width="1" height="7" fill="#fff"/>
<rect x="444" y="413" width="3" height="9" fill="#3a3a3a"/>
<rect x="445" y="414" width="1" height="8" fill="#fff"/>
<rect x="449" y="413" width="3" height="9" fill="#0a0a0a"/>
<rect x="453" y="407" width="3" height="15" fill="#3a3a3a"/>
<rect x="454" y="408" width="1" height="14" fill="#fff"/>
<rect x="457" y="414" width="3" height="8" fill="#3a3a3a"/>
<rect x="458" y="415" width="1" height="7" fill="#fff"/>
<rect x="461" y="411" width="3" height="11" fill="#3a3a3a"/>
<rect x="462" y="412" width="1" height="10" fill="#fff"/>
<rect x="466" y="411" width="3" height="11" fill="#0a0a0a"/>
<rect x="470" y="416" width="3" height="6" fill="#3a3a3a"/>
<rect x="471" y="417" width="1" height="5" fill="#fff"/>
<rect x="474" y="418" width="3" height="4" fill="#0a0a0a"/>
<rect x="479" y="416" width="3" height="6" fill="#3a3a3a"/>
<rect x="480" y="417" width="1" height="5" fill="#fff"/>
<rect x="483" y="413" width="3" height="9" fill="#3a3a3a"/>
<rect x="484" y="414" width="1" height="8" fill="#fff"/>
<rect x="487" y="409" width="3" height="13" fill="#3a3a3a"/>
<rect x="488" y="410" width="1" height="12" fill="#fff"/>
<rect x="492" y="408" width="3" height="14" fill="#3a3a3a"/>
<rect x="493" y="409" width="1" height="13" fill="#fff"/>
<rect x="496" y="409" width="3" height="13" fill="#3a3a3a"/>
<rect x="497" y="410" width="1" height="12" fill="#fff"/>
<rect x="500" y="404" width="3" height="18" fill="#3a3a3a"/>
<rect x="501" y="405" width="1" height="17" fill="#fff"/>
<rect x="504" y="408" width="3" height="14" fill="#3a3a3a"/>
<rect x="505" y="409" width="1" height="13" fill="#fff"/>
<rect x="509" y="409" width="3" height="13" fill="#0a0a0a"/>
<rect x="513" y="412" width="3" height="10" fill="#0a0a0a"/>
<rect x="517" y="415" width="3" height="7" fill="#0a0a0a"/>
<rect x="522" y="409" width="3" height="13" fill="#0a0a0a"/>
<rect x="526" y="414" width="3" height="8" fill="#3a3a3a"/>
<rect x="527" y="415" width="1" height="7" fill="#fff"/>
<rect x="530" y="414" width="3" height="8" fill="#3a3a3a"/>
<rect x="531" y="415" width="1" height="7" fill="#fff"/>
<rect x="535" y="405" width="3" height="17" fill="#3a3a3a"/>
<rect x="536" y="406" width="1" height="16" fill="#fff"/>
<rect x="539" y="410" width="3" height="12" fill="#0a0a0a"/>
<rect x="543" y="411" width="3" height="11" fill="#3a3a3a"/>
<rect x="544" y="412" width="1" height="10" fill="#fff"/>
<rect x="547" y="408" width="3" height="14" fill="#3a3a3a"/>
<rect x="548" y="409" width="1" height="13" fill="#fff"/>
<rect x="552" y="386" width="3" height="36" fill="#3a3a3a"/>
<rect x="553" y="387" width="1" height="35" fill="#fff"/>
<rect x="556" y="358" width="3" height="64" fill="#3a3a3a"/>
<rect x="557" y="359" width="1" height="63" fill="#fff"/>
<rect x="560" y="394" width="3" height="28" fill="#3a3a3a"/>
<rect x="561" y="395" width="1" height="27" fill="#fff"/>
<rect x="565" y="378" width="3" height="44" fill="#0a0a0a"/>
<rect x="569" y="386" width="3" height="36" fill="#3a3a3a"/>
<rect x="570" y="387" width="1" height="35" fill="#fff"/>
<rect x="573" y="381" width="3" height="41" fill="#3a3a3a"/>
<rect x="574" y="382" width="1" height="40" fill="#fff"/>
<rect x="578" y="385" width="3" height="37" fill="#0a0a0a"/>
<rect x="582" y="399" width="3" height="23" fill="#3a3a3a"/>
<rect x="583" y="400" width="1" height="22" fill="#fff"/>
<rect x="586" y="382" width="3" height="40" fill="#3a3a3a"/>
<rect x="587" y="383" width="1" height="39" fill="#fff"/>
<rect x="590" y="360" width="3" height="62" fill="#3a3a3a"/>
<rect x="591" y="361" width="1" height="61" fill="#fff"/>
<rect x="595" y="372" width="3" height="50" fill="#3a3a3a"/>
<rect x="596" y="373" width="1" height="49" fill="#fff"/>
<rect x="599" y="409" width="3" height="13" fill="#0a0a0a"/>
<rect x="603" y="375" width="3" height="47" fill="#3a3a3a"/>
<rect x="604" y="376" width="1" height="46" fill="#fff"/>
<rect x="608" y="326" width="3" height="96" fill="#3a3a3a"/>
<rect x="609" y="327" width="1" height="95" fill="#fff"/>
<rect x="612" y="348" width="3" height="74" fill="#3a3a3a"/>
<rect x="613" y="349" width="1" height="73" fill="#fff"/>
<path d="M2.6,398.28 L6.9,399.12 L11.2,400.42 L15.51,402.52 L19.81,403.62 L24.11,406.04 L28.41,408.4 L32.71,409.96 L37.02,410.92 L41.32,412.92 L45.62,412.82 L49.92,413.28 L54.22,413.28 L58.53,408.52 L62.83,405.68 L67.13,401.22 L71.43,398.34 L75.73,396.4 L80.04,399.76 L84.34,401.16 L88.64,402.56 L92.94,403.92 L97.24,403.16 L101.55,402.86 L105.85,399.7 L110.15,401.58 L114.45,398.74 L118.75,398.14 L123.06,397.92 L127.36,402.44 L131.66,404.02 L135.96,407.98 L140.26,410.78 L144.57,410.38 L148.87,409.46 L153.17,408.84 L157.47,409.28 L161.77,409.46 L166.08,410.48 L170.38,410.96 L174.68,411.34 L178.98,411.4 L183.28,411.4 L187.59,412.66 L191.89,413.34 L196.19,413.78 L200.49,413.16 L204.79,413.04 L209.1,412.38 L213.4,413.02 L217.7,413.2 L222,411.56 L226.3,411.84 L230.61,412.38 L234.91,410.3 L239.21,408.12 L243.51,410.12 L247.81,411.44 L252.12,412.2 L256.42,412.64 L260.72,411.72 L265.02,410.76 L269.32,405.9 L273.63,402.62 L277.93,399.9 L282.23,397.28 L286.53,392.68 L290.83,393.56 L295.14,394.1 L299.44,397.36 L303.74,403.34 L308.04,409.14 L312.34,412.36 L316.65,414.14 L320.95,415.24 L325.25,414.24 L329.55,413.8 L333.85,413.9 L338.16,415.08 L342.46,415.2 L346.76,415.94 L351.06,416.66 L355.36,416.1 L359.67,416.1 L363.97,415.96 L368.27,415.82 L372.57,415.28 L376.87,415.62 L381.18,415.44 L385.48,415.7 L389.78,415.98 L394.08,415.92 L398.38,416.58 L402.69,414.02 L406.99,407.42 L411.29,405.82 L415.59,404.5 L419.89,401.7 L424.2,401.66 L428.5,406.34 L432.8,404.5 L437.1,405.28 L441.4,407.54 L445.71,409.58 L450.01,410.5 L454.31,411.74 L458.61,412.16 L462.91,411.6 L467.22,411.22 L471.52,411.82 L475.82,414.02 L480.12,414.42 L484.42,414.86 L488.73,414.36 L493.03,412.76 L497.33,411 L501.63,408.52 L505.93,407.52 L510.24,407.5 L514.54,408.16 L518.84,409.38 L523.14,410.52 L527.44,411.76 L531.75,412.76 L536.05,411.46 L540.35,410.48 L544.65,410.88 L548.95,409.6 L553.26,404.1 L557.56,394.7 L561.86,391.48 L566.16,384.88 L570.46,380.38 L574.77,379.42 L579.07,384.88 L583.37,385.9 L587.67,386.68 L591.97,381.66 L596.28,379.88 L600.58,384.58 L604.88,379.78 L609.18,368.48 L613.48,365.9" fill="none" stroke="#333" stroke-width="0.8"/>
<path d="M2.6,397.89 L6.9,398.31 L11.2,398.96 L15.51,400.01 L19.81,400.56 L24.11,402.16 L28.41,403.76 L32.71,405.19 L37.02,406.72 L41.32,408.27 L45.62,409.43 L49.92,410.84 L54.22,411.62 L58.53,409.72 L62.83,409.3 L67.13,407.02 L71.43,405.81 L75.73,404.84 L80.04,404.14 L84.34,403.42 L88.64,401.89 L92.94,401.13 L97.24,399.78 L101.55,401.31 L105.85,400.43 L110.15,402.07 L114.45,401.33 L118.75,400.65 L123.06,400.39 L127.36,401.07 L131.66,402.8 L135.96,403.36 L140.26,404.46 L144.57,404.15 L148.87,405.95 L153.17,406.43 L157.47,408.63 L161.77,410.12 L166.08,410.43 L170.38,410.21 L174.68,410.09 L178.98,410.34 L183.28,410.43 L187.59,411.57 L191.89,412.15 L196.19,412.56 L200.49,412.28 L204.79,412.22 L209.1,412.52 L213.4,413.18 L217.7,413.49 L222,412.36 L226.3,412.44 L230.61,412.38 L234.91,411.66 L239.21,410.66 L243.51,410.84 L247.81,411.64 L252.12,412.29 L256.42,411.47 L260.72,409.92 L265.02,410.44 L269.32,408.67 L273.63,407.41 L277.93,406.27 L282.23,404.5 L286.53,401.72 L290.83,399.73 L295.14,398.36 L299.44,398.63 L303.74,400.31 L308.04,400.91 L312.34,402.96 L316.65,404.12 L320.95,406.3 L325.25,408.79 L329.55,411.47 L333.85,413.13 L338.16,414.61 L342.46,415.22 L346.76,415.09 L351.06,415.23 L355.36,415 L359.67,415.59 L363.97,415.58 L368.27,415.88 L372.57,415.97 L376.87,415.86 L381.18,415.77 L385.48,415.83 L389.78,415.9 L394.08,415.6 L398.38,416.1 L402.69,414.73 L406.99,411.56 L411.29,410.9 L415.59,410.21 L419.89,409.14 L424.2,407.84 L428.5,406.88 L432.8,405.16 L437.1,404.89 L441.4,404.62 L445.71,405.62 L450.01,408.42 L454.31,408.12 L458.61,408.72 L462.91,409.57 L467.22,410.4 L471.52,411.16 L475.82,412.88 L480.12,413.29 L484.42,413.23 L488.73,412.79 L493.03,412.29 L497.33,412.51 L501.63,411.47 L505.93,411.19 L510.24,410.93 L514.54,410.46 L518.84,410.19 L523.14,409.52 L527.44,409.64 L531.75,410.13 L536.05,409.81 L540.35,409.93 L544.65,410.7 L548.95,410.68 L553.26,408.43 L557.56,403.08 L561.86,400.98 L566.16,397.88 L570.46,394.99 L574.77,391.76 L579.07,389.79 L583.37,388.69 L587.67,385.78 L591.97,381.02 L596.28,379.65 L600.58,384.73 L604.88,382.84 L609.18,377.58 L613.48,373.78" fill="none" stroke="#555" stroke-width="0.8"/>
<rect x="614.8" y="1.5" width="1" height="431" fill="#555"/>
<rect x="615.5" y="9.12" width="2.6" height="0.8" fill="#555"/>
<rect x="615.5" y="16.7" width="1.6" height="0.8" fill="#555"/>
<rect x="615.5" y="24.28" width="2.6" height="0.8" fill="#555"/>
<rect x="615.5" y="31.86" width="1.6" height="0.8" fill="#555"/>
<rect x="615.5" y="39.44" width="2.6" height="0.8" fill="#555"/>
<rect x="615.5" y="47.02" width="1.6" height="0.8" fill="#555"/>
<rect x="615.5" y="54.6" width="2.6" height="0.8" fill="#555"/>
<rect x="615.5" y="62.18" width="1.6" height="0.8" fill="#555"/>
<rect x="615.5" y="69.76" width="2.6" height="0.8" fill="#555"/>
<rect x="615.5" y="77.34" width="1.6" height="0.8" fill="#555"/>
<rect x="615.5" y="84.92" width="2.6" height="0.8" fill="#555"/>
<rect x="615.5" y="92.5" width="1.6" height="0.8" fill="#555"/>
<rect x="615.5" y="100.08" width="2.6" height="0.8" fill="#555"/>
<rect x="615.5" y="107.66" width="1.6" height="0.8" fill="#555"/>
<rect x="615.5" y="115.24" width="2.6" height="0.8" fill="#555"/>
<rect x="615.5" y="122.82" width="1.6" height="0.8" fill="#555"/>
<rect x="615.5" y="130.4" width="2.6" height="0.8" fill="#555"/>
<rect x="615.5" y="137.98" width="1.6" height="0.8" fill="#555"/>
<rect x="615.5" y="145.56" width="2.6" height="0.8" fill="#555"/>
<rect x="615.5" y="153.14" width="1.6" height="0.8" fill="#555"/>
<rect x="615.5" y="160.72" width="2.6" height="0.8" fill="#555"/>
<rect x="615.5" y="168.3" width="1.6" height="0.8" fill="#555"/>
<rect x="615.5" y="175.88" width="2.6" height="0.8" fill="#555"/>
<rect x="615.5" y="183.46" width="1.6" height="0.8" fill="#555"/>
<rect x="615.5" y="191.04" width="2.6" height="0.8" fill="#555"/>
<rect x="615.5" y="198.62" width="1.6" height="0.8" fill="#555"/>
<rect x="615.5" y="206.2" width="2.6" height="0.8" fill="#555"/>
<rect x="615.5" y="213.78" width="1.6" height="0.8" fill="#555"/>
<rect x="615.5" y="221.36" width="2.6" height="0.8" fill="#555"/>
<rect x="615.5" y="228.94" width="1.6" height="0.8" fill="#555"/>
<rect x="615.5" y="236.52" width="2.6" height="0.8" fill="#555"/>
<rect x="615.5" y="244.1" width="1.6" height="0.8" fill="#555"/>
<rect x="615.5" y="251.68" width="2.6" height="0.8" fill="#555"/>
<rect x="615.5" y="259.26" width="1.6" height="0.8" fill="#555"/>
<rect x="615.5" y="266.84" width="2.6" height="0.8" fill="#555"/>
<rect x="615.5" y="274.42" width="1.6" height="0.8" fill="#555"/>
<rect x="615.5" y="282" width="2.6" height="0.8" fill="#555"/>
<rect x="615.5" y="289.58" width="1.6" height="0.8" fill="#555"/>
<rect x="615.5" y="297.16" width="2.6" height="0.8" fill="#555"/>
<rect x="615.5" y="304.74" width="1.6" height="0.8" fill="#555"/>
<rect x="615.5" y="312.32" width="2.6" height="0.8" fill="#555"/>
<text x="638" y="11.87" text-anchor="end" font-size="6" fill="#3a3a3a" font-family="'Liberation Sans', 'Noto Sans CJK SC', sans-serif" stroke="#3a3a3a" stroke-width="0.12">11.00</text>
<text x="638" y="27.03" text-anchor="end" font-size="6" fill="#3a3a3a" font-family="'Liberation Sans', 'Noto Sans CJK SC', sans-serif" stroke="#3a3a3a" stroke-width="0.12">10.50</text>
<text x="638" y="42.19" text-anchor="end" font-size="6" fill="#3a3a3a" font-family="'Liberation Sans', 'Noto Sans CJK SC', sans-serif" stroke="#3a3a3a" stroke-width="0.12">10.00</text>
<text x="638" y="57.35" text-anchor="end" font-size="6" fill="#3a3a3a" font-family="'Liberation Sans', 'Noto Sans CJK SC', sans-serif" stroke="#3a3a3a" stroke-width="0.12">9.50</text>
<text x="638" y="72.51" text-anchor="end" font-size="6" fill="#3a3a3a" font-family="'Liberation Sans', 'Noto Sans CJK SC', sans-serif" stroke="#3a3a3a" stroke-width="0.12">9.00</text>
<text x="638" y="87.67" text-anchor="end" font-size="6" fill="#3a3a3a" font-family="'Liberation Sans', 'Noto Sans CJK SC', sans-serif" stroke="#3a3a3a" stroke-width="0.12">8.50</text>
<text x="638" y="102.83" text-anchor="end" font-size="6" fill="#3a3a3a" font-family="'Liberation Sans', 'Noto Sans CJK SC', sans-serif" stroke="#3a3a3a" stroke-width="0.12">8.00</text>
<text x="638" y="117.99" text-anchor="end" font-size="6" fill="#3a3a3a" font-family="'Liberation Sans', 'Noto Sans CJK SC', sans-serif" stroke="#3a3a3a" stroke-width="0.12">7.50</text>
<text x="638" y="133.15" text-anchor="end" font-size="6" fill="#3a3a3a" font-family="'Liberation Sans', 'Noto Sans CJK SC', sans-serif" stroke="#3a3a3a" stroke-width="0.12">7.00</text>
<text x="638" y="148.31" text-anchor="end" font-size="6" fill="#3a3a3a" font-family="'Liberation Sans', 'Noto Sans CJK SC', sans-serif" stroke="#3a3a3a" stroke-width="0.12">6.50</text>
<text x="638" y="163.47" text-anchor="end" font-size="6" fill="#3a3a3a" font-family="'Liberation Sans', 'Noto Sans CJK SC', sans-serif" stroke="#3a3a3a" stroke-width="0.12">6.00</text>
<text x="638" y="178.63" text-anchor="end" font-size="6" fill="#3a3a3a" font-family="'Liberation Sans', 'Noto Sans CJK SC', sans-serif" stroke="#3a3a3a" stroke-width="0.12">5.50</text>
<text x="638" y="193.79" text-anchor="end" font-size="6" fill="#3a3a3a" font-family="'Liberation Sans', 'Noto Sans CJK SC', sans-serif" stroke="#3a3a3a" stroke-width="0.12">5.00</text>
<text x="638" y="208.95" text-anchor="end" font-size="6" fill="#3a3a3a" font-family="'Liberation Sans', 'Noto Sans CJK SC', sans-serif" stroke="#3a3a3a" stroke-width="0.12">4.50</text>
<text x="638" y="224.11" text-anchor="end" font-size="6" fill="#3a3a3a" font-family="'Liberation Sans', 'Noto Sans CJK SC', sans-serif" stroke="#3a3a3a" stroke-width="0.12">4.00</text>
<text x="638" y="239.27" text-anchor="end" font-size="6" fill="#3a3a3a" font-family="'Liberation Sans', 'Noto Sans CJK SC', sans-serif" stroke="#3a3a3a" stroke-width="0.12">3.50</text>
<text x="638" y="254.43" text-anchor="end" font-size="6" fill="#3a3a3a" font-family="'Liberation Sans', 'Noto Sans CJK SC', sans-serif" stroke="#3a3a3a" stroke-width="0.12">3.00</text>
<text x="638" y="269.59" text-anchor="end" font-size="6" fill="#3a3a3a" font-family="'Liberation Sans', 'Noto Sans CJK SC', sans-serif" stroke="#3a3a3a" stroke-width="0.12">2.50</text>
<text x="638" y="284.75" text-anchor="end" font-size="6" fill="#3a3a3a" font-family="'Liberation Sans', 'Noto Sans CJK SC', sans-serif" stroke="#3a3a3a" stroke-width="0.12">2.00</text>
<text x="638" y="299.91" text-anchor="end" font-size="6" fill="#3a3a3a" font-family="'Liberation Sans', 'Noto Sans CJK SC', sans-serif" stroke="#3a3a3a" stroke-width="0.12">1.50</text>
<rect x="0" y="315.8" width="640" height="1.8" fill="#6a6a6a"/>
<rect x="0" y="423.6" width="640" height="1" fill="#555"/>
<rect x="0" y="431.6" width="640" height="1" fill="#777"/>
<text x="638" y="331.5" text-anchor="end" font-size="6" fill="#3a3a3a" font-family="'Liberation Sans', 'Noto Sans CJK SC', sans-serif" stroke="#3a3a3a" stroke-width="0.12">40000</text>
<rect x="615.5" y="329" width="2" height="0.8" fill="#555"/>
<text x="638" y="343.6" text-anchor="end" font-size="6" fill="#3a3a3a" font-family="'Liberation Sans', 'Noto Sans CJK SC', sans-serif" stroke="#3a3a3a" stroke-width="0.12">35000</text>
<rect x="615.5" y="341.1" width="2" height="0.8" fill="#555"/>
<text x="638" y="366.7" text-anchor="end" font-size="6" fill="#3a3a3a" font-family="'Liberation Sans', 'Noto Sans CJK SC', sans-serif" stroke="#3a3a3a" stroke-width="0.12">25000</text>
<rect x="615.5" y="364.2" width="2" height="0.8" fill="#555"/>
<text x="638" y="378" text-anchor="end" font-size="6" fill="#3a3a3a" font-family="'Liberation Sans', 'Noto Sans CJK SC', sans-serif" stroke="#3a3a3a" stroke-width="0.12">20000</text>
<rect x="615.5" y="375.5" width="2" height="0.8" fill="#555"/>
<text x="638" y="389.8" text-anchor="end" font-size="6" fill="#3a3a3a" font-family="'Liberation Sans', 'Noto Sans CJK SC', sans-serif" stroke="#3a3a3a" stroke-width="0.12">15000</text>
<rect x="615.5" y="387.3" width="2" height="0.8" fill="#555"/>
<text x="638" y="400.4" text-anchor="end" font-size="6" fill="#3a3a3a" font-family="'Liberation Sans', 'Noto Sans CJK SC', sans-serif" stroke="#3a3a3a" stroke-width="0.12">10000</text>
<rect x="615.5" y="397.9" width="2" height="0.8" fill="#555"/>
<rect x="615.8" y="350" width="22.5" height="7.2" fill="#fff" stroke="#555" stroke-width="0.8"/>
<text x="617" y="355.9" font-size="6" fill="#333" font-family="'Liberation Sans', 'Noto Sans CJK SC', sans-serif" stroke="#333" stroke-width="0.12">27866</text>
<rect x="616.3" y="415.6" width="11.2" height="6.8" fill="#fff" stroke="#444" stroke-width="0.8"/>
<text x="617.2" y="421.2" font-size="5.6" fill="#333" font-family="'Liberation Sans', 'Noto Sans CJK SC', sans-serif" stroke="#333" stroke-width="0.12">X10</text>
<rect x="27.7" y="425.9" width="7.8" height="4.6" fill="#d6d0d6"/>
<rect x="41.9" y="425.9" width="10.65" height="4.6" fill="#d6d0d6"/>
<rect x="58.95" y="425.9" width="14.45" height="4.6" fill="#d6d0d6"/>
<rect x="79.8" y="425.9" width="15.7" height="4.6" fill="#d6d0d6"/>
<rect x="105.3" y="425.9" width="7.5" height="4.6" fill="#d6d0d6"/>
<rect x="122.6" y="425.9" width="11.5" height="4.6" fill="#d6d0d6"/>
<rect x="140.5" y="425.9" width="10.9" height="4.6" fill="#d6d0d6"/>
<rect x="157.8" y="425.9" width="6.4" height="4.6" fill="#d6d0d6"/>
<rect x="170.6" y="425.9" width="9.2" height="4.6" fill="#d6d0d6"/>
<rect x="186.2" y="425.9" width="15.1" height="4.6" fill="#d6d0d6"/>
<rect x="207.7" y="425.9" width="6.6" height="4.6" fill="#d6d0d6"/>
<rect x="220.7" y="425.9" width="11.4" height="4.6" fill="#d6d0d6"/>
<rect x="238.5" y="425.9" width="15.8" height="4.6" fill="#d6d0d6"/>
<rect x="260.7" y="425.9" width="9.1" height="4.6" fill="#d6d0d6"/>
<rect x="276.2" y="425.9" width="18.6" height="4.6" fill="#d6d0d6"/>
<rect x="304.6" y="425.9" width="2.2" height="4.6" fill="#d6d0d6"/>
<rect x="316.6" y="425.9" width="6.2" height="4.6" fill="#d6d0d6"/>
<rect x="332.6" y="425.9" width="12.2" height="4.6" fill="#d6d0d6"/>
<rect x="351.2" y="425.9" width="11.6" height="4.6" fill="#d6d0d6"/>
<rect x="369.2" y="425.9" width="6.2" height="4.6" fill="#d6d0d6"/>
<rect x="381.8" y="425.9" width="14" height="4.6" fill="#d6d0d6"/>
<rect x="402.2" y="425.9" width="9.1" height="4.6" fill="#d6d0d6"/>
<rect x="417.7" y="425.9" width="7.1" height="4.6" fill="#d6d0d6"/>
<rect x="431.2" y="425.9" width="14.1" height="4.6" fill="#d6d0d6"/>
<rect x="451.7" y="425.9" width="13.1" height="4.6" fill="#d6d0d6"/>
<rect x="471.2" y="425.9" width="11.6" height="4.6" fill="#d6d0d6"/>
<rect x="489.2" y="425.9" width="14.1" height="4.6" fill="#d6d0d6"/>
<rect x="513.1" y="425.9" width="3.7" height="4.6" fill="#d6d0d6"/>
<rect x="526.6" y="425.9" width="8.2" height="4.6" fill="#d6d0d6"/>
<rect x="544.6" y="425.9" width="6.4" height="4.6" fill="#d6d0d6"/>
<rect x="607.7" y="425.9" width="6.1" height="4.6" fill="#d6d0d6"/>
<rect x="590.2" y="425.9" width="11.2" height="4.6" fill="#d6d0d6"/>
<rect x="22.5" y="424.6" width="0.9" height="7" fill="#555"/>
<text x="23.7" y="430.6" font-size="6" fill="#333" font-family="'Liberation Sans', 'Noto Sans CJK SC', sans-serif" stroke="#333" stroke-width="0.12">5</text>
<rect x="36.7" y="424.6" width="0.9" height="7" fill="#555"/>
<text x="37.9" y="430.6" font-size="6" fill="#333" font-family="'Liberation Sans', 'Noto Sans CJK SC', sans-serif" stroke="#333" stroke-width="0.12">6</text>
<rect x="53.75" y="424.6" width="0.9" height="7" fill="#555"/>
<text x="54.95" y="430.6" font-size="6" fill="#333" font-family="'Liberation Sans', 'Noto Sans CJK SC', sans-serif" stroke="#333" stroke-width="0.12">7</text>
<rect x="74.6" y="424.6" width="0.9" height="7" fill="#555"/>
<text x="75.8" y="430.6" font-size="6" fill="#333" font-family="'Liberation Sans', 'Noto Sans CJK SC', sans-serif" stroke="#333" stroke-width="0.12">8</text>
<rect x="96.7" y="424.6" width="0.9" height="7" fill="#555"/>
<text x="97.9" y="430.6" font-size="6" fill="#333" font-family="'Liberation Sans', 'Noto Sans CJK SC', sans-serif" stroke="#333" stroke-width="0.12">11</text>
<rect x="114" y="424.6" width="0.9" height="7" fill="#555"/>
<text x="115.2" y="430.6" font-size="6" fill="#333" font-family="'Liberation Sans', 'Noto Sans CJK SC', sans-serif" stroke="#333" stroke-width="0.12">12</text>
<rect x="135.3" y="424.6" width="0.9" height="7" fill="#555"/>
<text x="136.5" y="430.6" font-size="6" fill="#333" font-family="'Liberation Sans', 'Noto Sans CJK SC', sans-serif" stroke="#333" stroke-width="0.12">1</text>
<rect x="152.6" y="424.6" width="0.9" height="7" fill="#555"/>
<text x="153.8" y="430.6" font-size="6" fill="#333" font-family="'Liberation Sans', 'Noto Sans CJK SC', sans-serif" stroke="#333" stroke-width="0.12">2</text>
<rect x="165.4" y="424.6" width="0.9" height="7" fill="#555"/>
<text x="166.6" y="430.6" font-size="6" fill="#333" font-family="'Liberation Sans', 'Noto Sans CJK SC', sans-serif" stroke="#333" stroke-width="0.12">3</text>
<rect x="181" y="424.6" width="0.9" height="7" fill="#555"/>
<text x="182.2" y="430.6" font-size="6" fill="#333" font-family="'Liberation Sans', 'Noto Sans CJK SC', sans-serif" stroke="#333" stroke-width="0.12">4</text>
<rect x="202.5" y="424.6" width="0.9" height="7" fill="#555"/>
<text x="203.7" y="430.6" font-size="6" fill="#333" font-family="'Liberation Sans', 'Noto Sans CJK SC', sans-serif" stroke="#333" stroke-width="0.12">5</text>
<rect x="215.5" y="424.6" width="0.9" height="7" fill="#555"/>
<text x="216.7" y="430.6" font-size="6" fill="#333" font-family="'Liberation Sans', 'Noto Sans CJK SC', sans-serif" stroke="#333" stroke-width="0.12">6</text>
<rect x="233.3" y="424.6" width="0.9" height="7" fill="#555"/>
<text x="234.5" y="430.6" font-size="6" fill="#333" font-family="'Liberation Sans', 'Noto Sans CJK SC', sans-serif" stroke="#333" stroke-width="0.12">7</text>
<rect x="255.5" y="424.6" width="0.9" height="7" fill="#555"/>
<text x="256.7" y="430.6" font-size="6" fill="#333" font-family="'Liberation Sans', 'Noto Sans CJK SC', sans-serif" stroke="#333" stroke-width="0.12">8</text>
<rect x="271" y="424.6" width="0.9" height="7" fill="#555"/>
<text x="272.2" y="430.6" font-size="6" fill="#333" font-family="'Liberation Sans', 'Noto Sans CJK SC', sans-serif" stroke="#333" stroke-width="0.12">9</text>
<rect x="296" y="424.6" width="0.9" height="7" fill="#555"/>
<text x="297.2" y="430.6" font-size="6" fill="#333" font-family="'Liberation Sans', 'Noto Sans CJK SC', sans-serif" stroke="#333" stroke-width="0.12">10</text>
<rect x="308" y="424.6" width="0.9" height="7" fill="#555"/>
<text x="309.2" y="430.6" font-size="6" fill="#333" font-family="'Liberation Sans', 'Noto Sans CJK SC', sans-serif" stroke="#333" stroke-width="0.12">11</text>
<rect x="324" y="424.6" width="0.9" height="7" fill="#555"/>
<text x="325.2" y="430.6" font-size="6" fill="#333" font-family="'Liberation Sans', 'Noto Sans CJK SC', sans-serif" stroke="#333" stroke-width="0.12">12</text>
<rect x="346" y="424.6" width="0.9" height="7" fill="#555"/>
<text x="347.2" y="430.6" font-size="6" fill="#333" font-family="'Liberation Sans', 'Noto Sans CJK SC', sans-serif" stroke="#333" stroke-width="0.12">1</text>
<rect x="364" y="424.6" width="0.9" height="7" fill="#555"/>
<text x="365.2" y="430.6" font-size="6" fill="#333" font-family="'Liberation Sans', 'Noto Sans CJK SC', sans-serif" stroke="#333" stroke-width="0.12">2</text>
<rect x="376.6" y="424.6" width="0.9" height="7" fill="#555"/>
<text x="377.8" y="430.6" font-size="6" fill="#333" font-family="'Liberation Sans', 'Noto Sans CJK SC', sans-serif" stroke="#333" stroke-width="0.12">3</text>
<rect x="397" y="424.6" width="0.9" height="7" fill="#555"/>
<text x="398.2" y="430.6" font-size="6" fill="#333" font-family="'Liberation Sans', 'Noto Sans CJK SC', sans-serif" stroke="#333" stroke-width="0.12">4</text>
<rect x="412.5" y="424.6" width="0.9" height="7" fill="#555"/>
<text x="413.7" y="430.6" font-size="6" fill="#333" font-family="'Liberation Sans', 'Noto Sans CJK SC', sans-serif" stroke="#333" stroke-width="0.12">5</text>
<rect x="426" y="424.6" width="0.9" height="7" fill="#555"/>
<text x="427.2" y="430.6" font-size="6" fill="#333" font-family="'Liberation Sans', 'Noto Sans CJK SC', sans-serif" stroke="#333" stroke-width="0.12">6</text>
<rect x="446.5" y="424.6" width="0.9" height="7" fill="#555"/>
<text x="447.7" y="430.6" font-size="6" fill="#333" font-family="'Liberation Sans', 'Noto Sans CJK SC', sans-serif" stroke="#333" stroke-width="0.12">7</text>
<rect x="466" y="424.6" width="0.9" height="7" fill="#555"/>
<text x="467.2" y="430.6" font-size="6" fill="#333" font-family="'Liberation Sans', 'Noto Sans CJK SC', sans-serif" stroke="#333" stroke-width="0.12">8</text>
<rect x="484" y="424.6" width="0.9" height="7" fill="#555"/>
<text x="485.2" y="430.6" font-size="6" fill="#333" font-family="'Liberation Sans', 'Noto Sans CJK SC', sans-serif" stroke="#333" stroke-width="0.12">9</text>
<rect x="504.5" y="424.6" width="0.9" height="7" fill="#555"/>
<text x="505.7" y="430.6" font-size="6" fill="#333" font-family="'Liberation Sans', 'Noto Sans CJK SC', sans-serif" stroke="#333" stroke-width="0.12">10</text>
<rect x="518" y="424.6" width="0.9" height="7" fill="#555"/>
<text x="519.2" y="430.6" font-size="6" fill="#333" font-family="'Liberation Sans', 'Noto Sans CJK SC', sans-serif" stroke="#333" stroke-width="0.12">11</text>
<rect x="536" y="424.6" width="0.9" height="7" fill="#555"/>
<text x="537.2" y="430.6" font-size="6" fill="#333" font-family="'Liberation Sans', 'Noto Sans CJK SC', sans-serif" stroke="#333" stroke-width="0.12">12</text>
<rect x="602.5" y="424.6" width="0.9" height="7" fill="#555"/>
<text x="603.7" y="430.6" font-size="6" fill="#333" font-family="'Liberation Sans', 'Noto Sans CJK SC', sans-serif" stroke="#333" stroke-width="0.12">5</text>
<text x="1.3" y="430.6" font-size="6" fill="#333" font-family="'Liberation Sans', 'Noto Sans CJK SC', sans-serif" textLength="20" lengthAdjust="spacingAndGlyphs" stroke="#333" stroke-width="0.12">2004年</text>
<rect x="552.4" y="424.4" width="36.6" height="7.2" fill="#fff" stroke="#444" stroke-width="0.8"/>
<text x="553.7" y="430.4" font-size="6" fill="#333" font-family="'Liberation Sans', 'Noto Sans CJK SC', sans-serif" textLength="29.4" lengthAdjust="spacingAndGlyphs" stroke="#333" stroke-width="0.12">2007/04/20</text>
<text x="583.6" y="430.4" font-size="4.6" fill="#333" font-family="'Liberation Sans', 'Noto Sans CJK SC', sans-serif" textLength="4.2" lengthAdjust="spacingAndGlyphs" stroke="#333" stroke-width="0.12">五</text>
<text x="621" y="430.6" font-size="6" fill="#6a4a6a" font-family="'Liberation Sans', 'Noto Sans CJK SC', sans-serif" textLength="11.6" lengthAdjust="spacingAndGlyphs" stroke="#6a4a6a" stroke-width="0.12">周线</text>
<text x="1.2" y="8.0" font-size="6.2" fill="#444" font-family="'Liberation Sans', 'Noto Sans CJK SC', sans-serif" textLength="35" lengthAdjust="spacingAndGlyphs">*ST天龙(周线)</text>
<path d="M2.6,19 L2.6,11.9 L7.6,12.6" fill="none" stroke="#333" stroke-width="0.9"/>
<text x="9.3" y="16.9" font-size="6.2" fill="#333" font-family="'Liberation Sans', 'Noto Sans CJK SC', sans-serif" textLength="13.4" lengthAdjust="spacingAndGlyphs" stroke="#333" stroke-width="0.12">10.94</text>
<path d="M248.6,305.6 L253.6,305.6" fill="none" stroke="#555" stroke-width="0.8"/>
<text x="254" y="306.6" font-size="5.6" fill="#444" font-family="'Liberation Sans', 'Noto Sans CJK SC', sans-serif" textLength="9.5" lengthAdjust="spacingAndGlyphs" stroke="#444" stroke-width="0.12">1.24</text>
<text x="-0.6" y="323.2" font-size="6" fill="#222" font-family="'Liberation Sans', 'Noto Sans CJK SC', sans-serif" textLength="145" lengthAdjust="spacingAndGlyphs" stroke="#222" stroke-width="0.12">VOLUME: 319881.60 MA5: 239687.41 MA10: 206416.50</text>
<circle cx="36.75" cy="313.7" r="1.3" fill="#222"/>
<circle cx="413.8" cy="313.7" r="1.3" fill="#222"/>
<circle cx="504.8" cy="313.7" r="1.3" fill="#222"/>
<rect x="551.2" y="312" width="1.5" height="3.6" fill="#222"/>
<circle cx="605.5" cy="6.2" r="1.9" fill="none" stroke="#777" stroke-width="0.9"/>
<rect x="609.5" y="3.9" width="5" height="4.2" fill="#666"/>
<rect x="610.3" y="4.6" width="2" height="2" fill="#ddd"/>
<rect x="0" y="0" width="640" height="0.9" fill="#dcc4dc"/>
<rect x="0" y="0.9" width="640" height="1.1" fill="#8c6c8c"/>
<rect x="0" y="0" width="1" height="434" fill="#a49ca4"/>
<rect x="638.6" y="0" width="1.4" height="434" fill="#7a6a7a"/>
</g>
</svg>
</body></html>
